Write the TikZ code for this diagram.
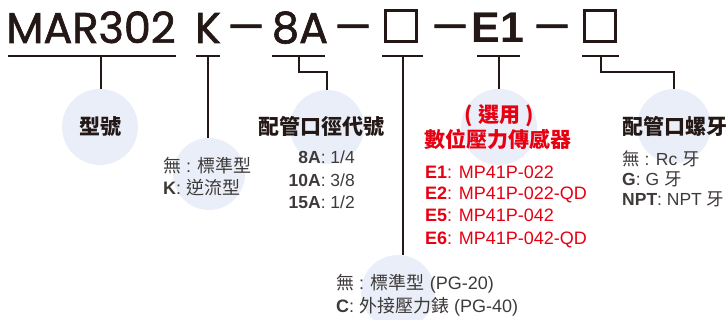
\documentclass[tikz,border=0pt]{standalone}
\usepackage{fontspec}
\setmainfont{Liberation Sans}
\newfontfamily\cjk{Noto Sans CJK TC}
\newfontfamily\titlefont[FakeBold=1.5]{Poppins}
\newcommand\zh[1]{{\cjk #1}}
\definecolor{ink}{HTML}{231815}
\definecolor{gtext}{HTML}{3E3A39}
\definecolor{bub}{HTML}{E9EEF8}
\definecolor{redc}{HTML}{E60012}
\begin{document}
\begin{tikzpicture}[x=1pt,y=-1pt,
  bubble/.style={circle,fill=bub,inner sep=0pt,minimum size=#1},
  ttl/.style={inner sep=0pt,anchor=base,text=ink,font=\titlefont\fontsize{43}{43}\selectfont},
  dsh/.style={inner sep=0pt,anchor=base,text=ink,font=\titlefont\fontsize{43}{43}\selectfont},
  tbox/.style={draw=ink,line width=3pt,inner sep=0pt,minimum size=31pt},
  conn/.style={draw=ink,line width=1.2pt},
  head/.style={inner sep=0pt,text=ink,font=\cjk\bfseries\fontsize{21}{21}\selectfont},
  desc/.style={inner sep=0pt,text=gtext,font=\fontsize{#1}{#1}\selectfont},
  redl/.style={inner sep=0pt,text=redc,font=\fontsize{18}{18}\selectfont,anchor=base west},
]
\useasboundingbox (0,0) rectangle (728,320);
% bubbles
\node[bubble=76pt] (c1) at (100,127) {};
\node[bubble=72pt] (c2) at (209,174) {};
\node[bubble=74pt] (c3) at (327,127) {};
\node[bubble=74pt] (c4) at (398,292) {};
\node[bubble=76pt] (c5) at (499,127) {};
\node[bubble=74pt] (c6) at (674,126) {};
% title
\node[ttl] (t1) at (91,43) {MAR302};
\node[ttl] (t2) at (208,43) {K};
\node[dsh] (d1) at (246,42) {\scalebox{1.35}[1]{–}};
\node[ttl] (t3) at (300,43) {8A};
\node[dsh] (d2) at (353,42) {\scalebox{1.35}[1]{–}};
\node[tbox] (t4) at (401,26.5) {};
\node[dsh] (d3) at (450,42) {\scalebox{1.35}[1]{–}};
\node[ttl,font=\bfseries\fontsize{43}{43}\selectfont] (t5) at (498,43) {E1};
\node[dsh] (d4) at (552,42) {\scalebox{1.35}[1]{–}};
\node[tbox] (t6) at (600,26.5) {};
% underline coordinates
\coordinate (u1a) at (8,56);   \coordinate (u1b) at (176,56); \coordinate (u1m) at (101,56);
\coordinate (u2a) at (196,56); \coordinate (u2b) at (220,56); \coordinate (u2m) at (208,56);
\coordinate (u3a) at (272,56); \coordinate (u3b) at (325,56); \coordinate (u3m) at (299,56);
\coordinate (u4a) at (382,56); \coordinate (u4b) at (423,56); \coordinate (u4m) at (403,56);
\coordinate (u5a) at (477,56); \coordinate (u5b) at (520,56); \coordinate (u5m) at (499,56);
\coordinate (u6a) at (582,56); \coordinate (u6b) at (619,56); \coordinate (u6m) at (601,56);
\draw[conn] (u1a) -- (u1b); \draw[conn] (u1m) -- (u1m |- c1.north);
\draw[conn] (u2a) -- (u2b); \draw[conn] (u2m) -- (u2m |- c2.north);
\draw[conn] (u3a) -- (u3b); \draw[conn] (u3m) -- ++(0,16) -| (c3.north);
\draw[conn] (u4a) -- (u4b); \draw[conn] (u4m) -- (u4m |- c4.north);
\draw[conn] (u5a) -- (u5b); \draw[conn] (u5m) -- (c5.north);
\draw[conn] (u6a) -- (u6b); \draw[conn] (u6m) -- ++(0,16) -| (c6.north);
% headings
\node[head,anchor=base] (h1) at (100,134.8) {型號};
\node[head,anchor=base west] (h3) at (258,134.8) {配管口徑代號};
\node[head,anchor=base,text=redc] (h5a) at (499,122.8) {(\hspace{5pt}選用\hspace{5pt})};
\node[head,anchor=base,text=redc] (h5b) at (498,147.8) {數位壓力傳感器};
\node[head,anchor=base west] (h6) at (622,134.8) {配管口螺牙};
% K options
\node[desc=18,anchor=base west] (k1) at (163,172.7) {\zh{無} : \zh{標準型}};
\node[desc=18,anchor=base west] (k2) at (163,194.7) {\textbf{K}: \zh{逆流型}};
% size options
\node[desc=17.5,anchor=base east] (s1) at (355,163.3) {\textbf{8A}: 1/4};
\node[desc=17.5,anchor=base east] (s2) at (355,186.3) {\textbf{10A}: 3/8};
\node[desc=17.5,anchor=base east] (s3) at (355,208.3) {\textbf{15A}: 1/2};
% sensor options
\node[redl] (e1) at (425,178.5) {\textbf{E1}: MP41P-022};
\node[redl] (e2) at (425,200) {\textbf{E2}: MP41P-022-QD};
\node[redl] (e5) at (425,222) {\textbf{E5}: MP41P-042};
\node[redl] (e6) at (425,244.5) {\textbf{E6}: MP41P-042-QD};
% thread options
\node[desc=17.5,anchor=base west] (r1) at (622,165.5) {\zh{無} : Rc \zh{牙}};
\node[desc=17.5,anchor=base west] (r2) at (622,186) {\textbf{G}: G \zh{牙}};
\node[desc=17.5,anchor=base west] (r3) at (622,206) {\textbf{NPT}: NPT \zh{牙}};
% gauge options
\node[desc=18,anchor=base west] (p1) at (336,289.7) {\zh{無} : \zh{標準型} (PG-20)};
\node[desc=18,anchor=base west] (p2) at (336,312.7) {\textbf{C}: \zh{外接壓力錶} (PG-40)};
\end{tikzpicture}
\end{document}
